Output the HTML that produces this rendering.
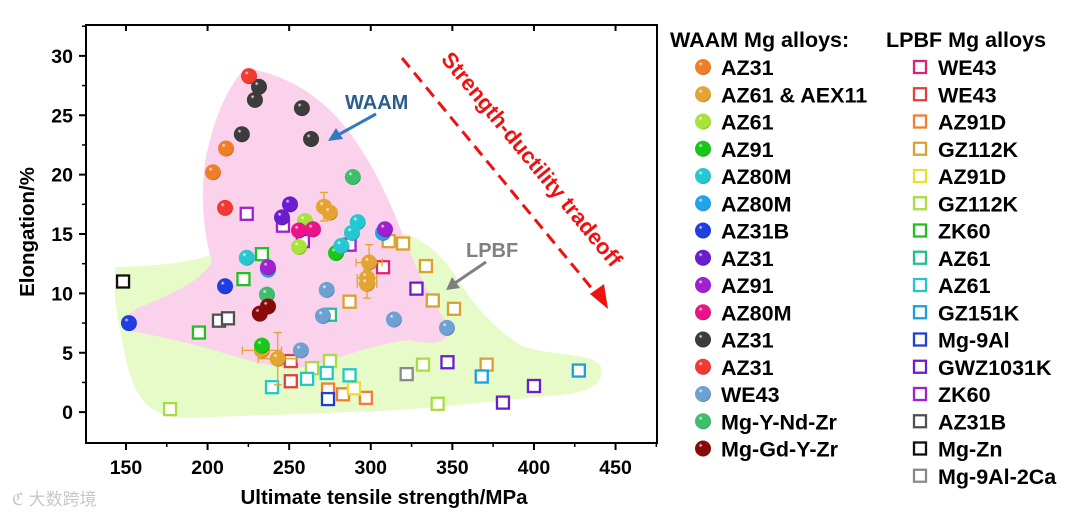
<!DOCTYPE html>
<html><head><meta charset="utf-8">
<style>
html,body{margin:0;padding:0;background:#fff;}
body{width:1080px;height:520px;overflow:hidden;font-family:"Liberation Sans",Arial,sans-serif;}
</style></head>
<body>
<svg id="chart" width="1080" height="520" viewBox="0 0 1080 520" xmlns="http://www.w3.org/2000/svg" font-family="Liberation Sans, Arial, sans-serif">
<defs id="defs"></defs>
<g id="regions">
  <path fill="#e6fbc8" d="M115,267 C150,266 185,264 210,255 C240,244 300,240 380,230 C410,230 435,245 455,275 C470,300 490,325 520,345 C545,356 590,352 600,365 C606,380 595,392 560,395 C500,400 440,408 380,411 C300,414 240,416 190,418 C155,418 140,405 130,375 C122,345 118,320 115,300 Z"/>
  <path fill="#fbd2ec" d="M245,68 C270,72 300,82 330,110 C360,140 380,180 395,215 C410,255 425,290 445,320 C455,340 440,347 410,340 C380,343 345,355 320,364 C295,372 265,365 240,358 C205,347 170,338 140,333 C118,330 118,318 140,307 C170,295 200,282 212,262 C204,235 200,200 205,162 C212,125 225,90 245,68 Z"/>
</g>
<g id="axes"></g>
<g id="marks"></g>
<g id="annot">
  <text x="345" y="109" font-size="20" font-weight="bold" fill="#2b5d8f">WAAM</text>
  <line x1="376" y1="114" x2="338" y2="135" stroke="#2f7bc0" stroke-width="3"/>
  <polygon points="328,141 336,128 343,139" fill="#2f7bc0"/>
  <text x="466" y="257" font-size="20" font-weight="bold" fill="#808080">LPBF</text>
  <line x1="486" y1="262" x2="455" y2="283" stroke="#7f7f7f" stroke-width="3"/>
  <polygon points="446,290 452,277 460,288" fill="#7f7f7f"/>
  <line x1="402" y1="58" x2="598" y2="296" stroke="#f01010" stroke-width="3" stroke-dasharray="12,7"/>
  <polygon points="608,309 590,294 604,284" fill="#f01010"/>
  <text x="0" y="0" font-size="22" font-weight="bold" fill="#f01010" text-anchor="middle" transform="translate(526,164) rotate(50.6)">Strength-ductility tradeoff</text>
</g>
<text x="384" y="504" font-size="20.5" font-weight="bold" text-anchor="middle">Ultimate tensile strength/MPa</text>
<text x="0" y="0" font-size="20.5" font-weight="bold" text-anchor="middle" transform="translate(34,232) rotate(-90)">Elongation/%</text>
<text x="12" y="505" font-size="17" fill="#c8c8c8" font-family="Liberation Sans, Noto Sans CJK SC, sans-serif">ℭ 大数跨境</text>
<g id="legend">
  <text x="670" y="47" font-size="21.5" font-weight="bold">WAAM Mg alloys:</text>
  <text x="886" y="47" font-size="21.5" font-weight="bold">LPBF Mg alloys</text>
</g>
</svg>
<script>
// axis domains
const xDomain=[125.5,475.4], yDomain=[-2.6,32.6];
const xTicks=[150,200,250,300,350,400,450];
const yTicks=[0,5,10,15,20,25,30];
// WAAM series (spheres)
const waamNames=["AZ31","AZ61 & AEX11","AZ61","AZ91","AZ80M","AZ80M","AZ31B","AZ31","AZ91","AZ80M","AZ31","AZ31","WE43","Mg-Y-Nd-Zr","Mg-Gd-Y-Zr"];
const waamColors=["#f07d2a","#e3a432","#a8e23a","#18c818","#25c8d0","#22a4ec","#1f3ee0","#6a1ed0","#a020d0","#ea1488","#3c3c3c","#f03a32","#6ea0d2","#3ebd6c","#8a0a0a"];
const waamX=[[211.3,203.3],[271.3,275,299,297.7,297.7,233.3,243],[259.7,256],[278.7,233.3],[292,288.5,282,224],[307.5,237],[210.7,151.8],[250.5,245.6],[237,308.7],[256,264.6],[231.5,229,257.8,221,263.4],[225.4,210.7],[273,270.7,257.2,314.2,346.7],[289,236.4],[237,232]];
const waamY=[[22.2,20.2],[17.3,16.8,12.6,11.3,10.8,5.2,4.5],[16.1,13.9],[13.4,5.6],[16,15.1,14,13],[15.1,12.0],[10.6,7.5],[17.5,16.4],[12.2,15.4],[15.3,15.4],[27.4,26.3,25.6,23.4,23.0],[28.3,17.2],[10.3,8.1,5.2,7.8,7.1],[19.8,9.9],[8.9,8.3]];
// error bars for AZ61 & AEX11 (x err, y err)
const errX=[0,0,8,6,6,12,12];
const errY=[1.2,0,1.5,0,1.2,0,2.2];
// LPBF series (open squares)
const lpbfNames=["WE43","WE43","AZ91D","GZ112K","AZ91D","GZ112K","ZK60","AZ61","AZ61","GZ151K","Mg-9Al","GWZ1031K","ZK60","AZ31B","Mg-Zn","Mg-9Al-2Ca"];
const lpbfColors=["#e0207a","#e04040","#ee8030","#dca030","#e8e030","#a8dc40","#20c020","#20c090","#20c8c8","#1aa0e0","#2040d0","#6a1ed0","#a020d0","#505050","#101010","#8a8a8a"];
const lpbfX=[[307.5],[251,251],[283,297,273.8],[311,319.8,333.8,338,351,287,371],[289.7],[275,264,177,332,341],[233.3,222,194.7],[275],[239.5,261,273,287],[368,427.5],[273.8],[328,347,400,381],[224,246.2,258.4,287],[207,212.5],[148.2],[322]];
const lpbfY=[[12.2],[4.3,2.6],[1.5,1.2,1.9],[14.4,14.2,12.3,9.4,8.7,9.3,4.0],[2.0],[4.3,3.7,0.25,4.0,0.7],[13.3,11.2,6.7],[8.2],[2.1,2.8,3.3,3.1],[3.0,3.5],[1.1],[10.4,4.2,2.2,0.8],[16.7,15.7,14.4,14.1],[7.7,7.9],[11.0],[3.2]];

const P={l:86,r:657,t:25,b:443};
const sx=v=>P.l+(v-xDomain[0])/(xDomain[1]-xDomain[0])*(P.r-P.l);
const sy=v=>P.b-(v-yDomain[0])/(yDomain[1]-yDomain[0])*(P.b-P.t);
const NS="http://www.w3.org/2000/svg";
function mk(tag,attrs,parent){const e=document.createElementNS(NS,tag);for(const k in attrs)e.setAttribute(k,attrs[k]);parent.appendChild(e);return e;}
const defs=document.getElementById('defs'),axes=document.getElementById('axes'),marks=document.getElementById('marks'),legend=document.getElementById('legend');

function shade(hex,f){const n=parseInt(hex.slice(1),16);let r=n>>16,g=(n>>8)&255,b=n&255;r=Math.round(r*f);g=Math.round(g*f);b=Math.round(b*f);return `rgb(${r},${g},${b})`;}
waamColors.forEach((c,i)=>{
  const gr=mk('radialGradient',{id:'g'+i,cx:'0.38',cy:'0.35',r:'0.7',fx:'0.35',fy:'0.3'},defs);
  mk('stop',{offset:'0','stop-color':'#ffffff'},gr);
  mk('stop',{offset:'0.18','stop-color':c},gr);
  mk('stop',{offset:'0.85','stop-color':c},gr);
  mk('stop',{offset:'1','stop-color':shade(c,0.7)},gr);
});

const fr=mk('rect',{x:P.l,y:P.t,width:P.r-P.l,height:P.b-P.t,fill:'none',stroke:'#000','stroke-width':2},axes);


xTicks.forEach(v=>{
  const x=sx(v);
  const t=mk('line',{x1:x,x2:x,y1:P.b,y2:P.b+7,stroke:'#000','stroke-width':2},axes);
  
  
  const tt=mk('line',{x1:x,x2:x,y1:P.t,y2:P.t+6,stroke:'#000','stroke-width':2},axes);
  
  
  const m=mk('line',{x1:sx(v+25),x2:sx(v+25),y1:P.b,y2:P.b+4,stroke:'#000','stroke-width':1.5},axes);
  
  
  const lb=mk('text',{x:x,y:P.b+31,'font-size':19.5,'font-weight':'bold','text-anchor':'middle'},axes);
  lb.textContent=v;
  
  
});
yTicks.forEach(v=>{
  const y=sy(v);
  const t=mk('line',{x1:P.l-7,x2:P.l,y1:y,y2:y,stroke:'#000','stroke-width':2},axes);
  
  
  const m=mk('line',{x1:P.l-4,x2:P.l,y1:sy(v+2.5),y2:sy(v+2.5),stroke:'#000','stroke-width':1.5},axes);
  
  
  const lb=mk('text',{x:P.l-13,y:y+7,'font-size':19.5,'font-weight':'bold','text-anchor':'end'},axes);
  lb.textContent=v;
  
  
});

lpbfX.forEach((xs,i)=>{xs.forEach((xv,j)=>{
  const s=mk('rect',{x:sx(xv)-6,y:sy(lpbfY[i][j])-6,width:12,height:12,fill:'#fff',stroke:lpbfColors[i],'stroke-width':2.3},marks);
  
  
});});
waamX[1].forEach((xv,j)=>{
  const x=sx(xv),y=sy(waamY[1][j]),c='#e3a432';
  if(errX[j]){const dx=errX[j]*(P.r-P.l)/(xDomain[1]-xDomain[0]);
    const e=mk('path',{d:`M${x-dx},${y}H${x+dx}M${x-dx},${y-4}v8M${x+dx},${y-4}v8`,stroke:c,'stroke-width':1.3,fill:'none'},marks);
    
    }
  if(errY[j]){const dy=errY[j]*(P.b-P.t)/(yDomain[1]-yDomain[0]);
    const e=mk('path',{d:`M${x},${y-dy}V${y+dy}M${x-4},${y-dy}h8M${x-4},${y+dy}h8`,stroke:c,'stroke-width':1.3,fill:'none'},marks);
    
    }
});
waamX.forEach((xs,i)=>{xs.forEach((xv,j)=>{
  const c=mk('circle',{cx:sx(xv),cy:sy(waamY[i][j]),r:8,fill:'url(#g'+i+')'},marks);
  
  
});});

const step=27.25;
waamNames.forEach((n,i)=>{
  const y=67+i*step;
  const c=mk('circle',{cx:703,cy:y,r:8,fill:'url(#g'+i+')'},legend);
  
  
  const t=mk('text',{x:721,y:y+8,'font-size':21.5,'font-weight':'bold'},legend);
  t.textContent=n;
  
  
});
lpbfNames.forEach((n,i)=>{
  const y=67+i*step;
  const s=mk('rect',{x:914,y:y-6,width:12,height:12,fill:'#fff',stroke:lpbfColors[i],'stroke-width':2.3},legend);
  
  
  const t=mk('text',{x:938,y:y+8,'font-size':21.5,'font-weight':'bold'},legend);
  t.textContent=n;
  
  
});
</script>
</body></html>
